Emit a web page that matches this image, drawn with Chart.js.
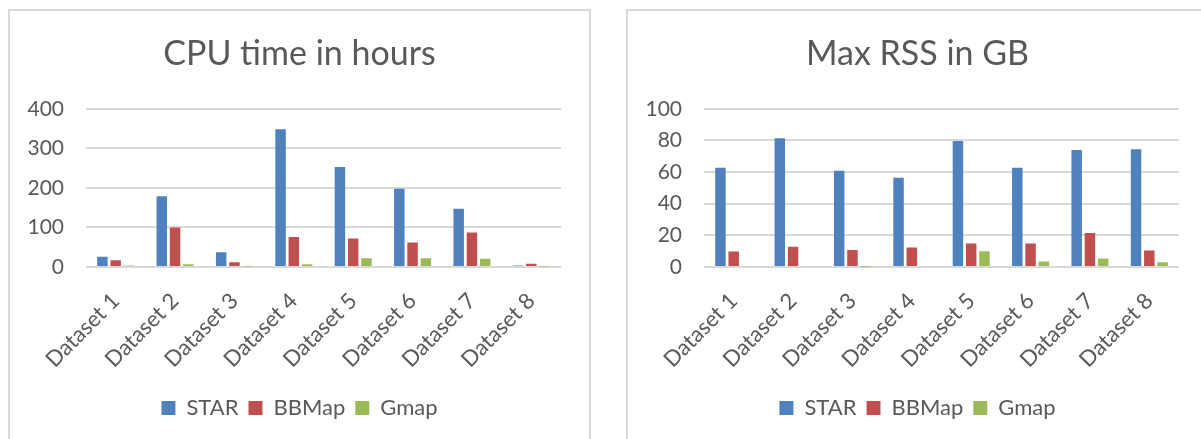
<!DOCTYPE html>
<html>
<head>
<meta charset="utf-8">
<script src="https://cdn.jsdelivr.net/npm/chart.js@4/dist/chart.umd.min.js"></script>
<style>
  html, body { margin: 0; padding: 0; background: #fff; overflow: hidden; }
  body { width: 1201px; height: 439px; position: relative; }
  .box { position: absolute; top: 9px; width: 579px; height: 440px; border: 2px solid #d9d9d9; }
  .box canvas { display: block; }
  #box-cpu { left: 8px; }
  #box-rss { left: 626px; }
</style>
</head>
<body>
<div class="box" id="box-cpu"><canvas id="cpu" width="579" height="430"></canvas></div>
<div class="box" id="box-rss"><canvas id="rss" width="579" height="430"></canvas></div>
<script>
const categories = ['Dataset 1', 'Dataset 2', 'Dataset 3', 'Dataset 4', 'Dataset 5', 'Dataset 6', 'Dataset 7', 'Dataset 8'];

// CPU time in hours
const cpuStar  = [26, 179, 37, 348, 253, 198, 147, 4];
const cpuBBMap = [17, 100, 12, 76, 72, 62, 87, 8];
const cpuGmap  = [4, 7, 1.5, 7, 22, 22, 21, 1.5];
const cpuTicks = [0, 100, 200, 300, 400];

// Max RSS in GB
const rssStar  = [62.8, 81.4, 60.9, 56.4, 79.7, 62.8, 73.9, 74.4];
const rssBBMap = [9.8, 12.8, 10.7, 12.4, 14.9, 14.9, 21.5, 10.4];
const rssGmap  = [0, 0.6, 0.2, 0.6, 10, 3.4, 5.3, 3];
const rssTicks = [0, 20, 40, 60, 80, 100];

const COLORS = { star: '#4f81bd', bbmap: '#c0504d', gmap: '#9bbb59' };
const TEXT = '#595959';
const FONT = 'Lato, "Open Sans", sans-serif';

function makeChart(id, title, star, bbmap, gmap, ticks) {
  const bar = (label, data, color) => ({
    label, data,
    backgroundColor: color,
    borderWidth: 0,
    categoryPercentage: 0.67,
    barPercentage: 0.79,
  });
  return new Chart(document.getElementById(id), {
    type: 'bar',
    data: {
      labels: categories,
      datasets: [
        bar('STAR', star, COLORS.star),
        bar('BBMap', bbmap, COLORS.bbmap),
        bar('Gmap', gmap, COLORS.gmap),
      ],
    },
    options: {
      responsive: false,
      animation: false,
      layout: { padding: { left: 0, right: 0, top: 0, bottom: 12 } },
      plugins: {
        tooltip: { enabled: false },
        title: {
          display: true,
          text: title,
          color: TEXT,
          font: { family: FONT, size: 34, weight: 'normal', lineHeight: 1.2 },
          padding: { top: 23, bottom: 34 },
        },
        legend: {
          position: 'bottom',
          labels: {
            color: TEXT,
            font: { family: FONT, size: 22 },
            boxWidth: 14,
            boxHeight: 14,
            padding: 10,
          },
        },
      },
      scales: {
        x: {
          grid: { display: false },
          border: { display: false },
          ticks: {
            color: TEXT,
            font: { family: FONT, size: 22 },
            minRotation: 45,
            maxRotation: 45,
            autoSkip: false,
            padding: 13,
          },
          afterFit: (s) => { s.height = 120; },
        },
        y: {
          min: ticks[0],
          max: ticks[ticks.length - 1],
          afterBuildTicks: (s) => { s.ticks = ticks.map((v) => ({ value: v })); },
          grid: { color: '#d9d9d9', lineWidth: 2, drawTicks: false },
          border: { display: false },
          ticks: {
            color: TEXT,
            font: { family: FONT, size: 21 },
            padding: 22,
          },
          afterFit: (s) => { s.width = 76; },
        },
        // empty right-hand axis: only reserves the blank margin right of the plot
        gap: {
          position: 'right',
          grid: { display: false },
          border: { display: false },
          ticks: { display: false },
          afterFit: (s) => { s.width = 28; },
        },
      },
    },
  });
}

makeChart('cpu', 'CPU time in hours', cpuStar, cpuBBMap, cpuGmap, cpuTicks);
makeChart('rss', 'Max RSS in GB', rssStar, rssBBMap, rssGmap, rssTicks);
</script>
</body>
</html>
